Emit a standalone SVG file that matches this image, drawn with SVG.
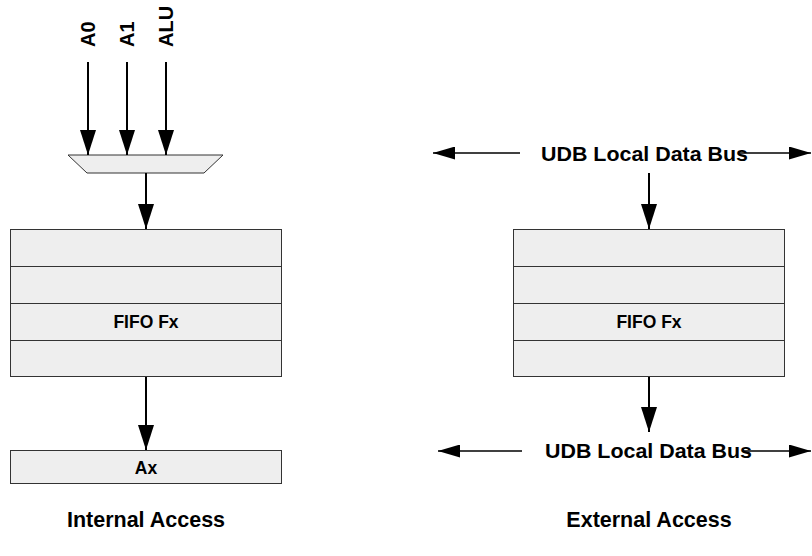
<svg xmlns="http://www.w3.org/2000/svg" width="812" height="556" viewBox="0 0 812 556">
<style>
.box{fill:#eeeeee;stroke:#333333;stroke-width:1}
.sep{stroke:#333333;stroke-width:1;fill:none}
.ln{stroke:#000000;stroke-width:2;fill:none}
.bus{stroke:#000000;stroke-width:1.5;fill:none}
.t{font-family:"Liberation Sans",Arial,sans-serif;font-weight:bold;fill:#000000}
</style>
<defs>
<marker id="av" markerUnits="userSpaceOnUse" markerWidth="25" markerHeight="16" viewBox="0 0 25 16" refX="25" refY="8" orient="auto">
<path d="M0,0 L25,8 L0,16 Z" fill="#000"/>
</marker>
<marker id="ah" markerUnits="userSpaceOnUse" markerWidth="22" markerHeight="13" viewBox="0 0 22 13" refX="22" refY="6.5" orient="auto">
<path d="M0,0 L22,6.5 L0,13 Z" fill="#000"/>
</marker>
</defs>

<g id="labels-in">
<text class="t" font-size="20" transform="translate(95,47) rotate(-90)">A0</text>
<text class="t" font-size="20" transform="translate(134,47) rotate(-90)">A1</text>
<text class="t" font-size="20" transform="translate(173,47) rotate(-90)">ALU</text>
</g>

<g id="mux">
<polygon class="box" points="68,155 223,155 204,173 87,173"/>
</g>

<g id="fifo-internal">
<rect class="box" x="10.5" y="229.5" width="271" height="147"/>
<line class="sep" x1="10.5" y1="266.5" x2="281.5" y2="266.5"/>
<line class="sep" x1="10.5" y1="303.5" x2="281.5" y2="303.5"/>
<line class="sep" x1="10.5" y1="340.5" x2="281.5" y2="340.5"/>
<text class="t" font-size="17.5" x="146" y="328" text-anchor="middle">FIFO Fx</text>
</g>

<g id="ax">
<rect class="box" x="10.5" y="450.5" width="271" height="33"/>
<text class="t" font-size="17.5" x="146" y="474" text-anchor="middle">Ax</text>
</g>

<g id="fifo-external">
<rect class="box" x="513.5" y="229.5" width="271" height="147"/>
<line class="sep" x1="513.5" y1="266.5" x2="784.5" y2="266.5"/>
<line class="sep" x1="513.5" y1="303.5" x2="784.5" y2="303.5"/>
<line class="sep" x1="513.5" y1="340.5" x2="784.5" y2="340.5"/>
<text class="t" font-size="17.5" x="649" y="328" text-anchor="middle">FIFO Fx</text>
</g>

<g id="bus-top">
<text class="t" font-size="20" x="541" y="161" textLength="207" lengthAdjust="spacingAndGlyphs">UDB Local Data Bus</text>
</g>
<g id="bus-bottom">
<text class="t" font-size="20" x="545" y="458" textLength="207" lengthAdjust="spacingAndGlyphs">UDB Local Data Bus</text>
</g>

<g id="connectors">
<line class="ln" x1="88" y1="62" x2="88" y2="155" marker-end="url(#av)"/>
<line class="ln" x1="127" y1="62" x2="127" y2="155" marker-end="url(#av)"/>
<line class="ln" x1="166" y1="62" x2="166" y2="155" marker-end="url(#av)"/>
<line class="ln" x1="146" y1="173" x2="146" y2="229" marker-end="url(#av)"/>
<line class="ln" x1="146" y1="377" x2="146" y2="450" marker-end="url(#av)"/>
<line class="bus" x1="520" y1="153" x2="433" y2="153" marker-end="url(#ah)"/>
<line class="bus" x1="738" y1="153" x2="811" y2="153" marker-end="url(#ah)"/>
<line class="ln" x1="649" y1="173" x2="649" y2="229" marker-end="url(#av)"/>
<line class="ln" x1="649" y1="377" x2="649" y2="432" marker-end="url(#av)"/>
<line class="bus" x1="522" y1="451" x2="438" y2="451" marker-end="url(#ah)"/>
<line class="bus" x1="742" y1="451" x2="811" y2="451" marker-end="url(#ah)"/>
</g>

<g id="captions">
<text class="t" font-size="21.5" x="146" y="527" text-anchor="middle">Internal Access</text>
<text class="t" font-size="21.5" x="649" y="527" text-anchor="middle">External Access</text>
</g>
</svg>
